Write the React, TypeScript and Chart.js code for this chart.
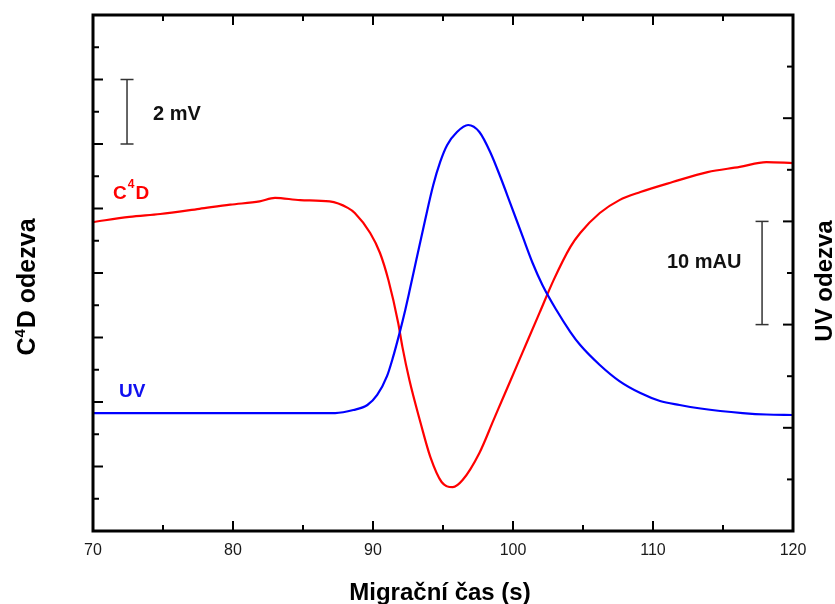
import React, { useEffect, useRef } from 'react';
import { Chart, registerables } from 'chart.js';

Chart.register(...registerables);

// C4D response (left axis, mV) vs migration time (s)
const c4dTime = [70, 72.6, 74.8, 77.6, 79.8, 81.9, 83.0, 84.8, 86.9, 88.2, 88.7, 89.8, 90.5, 91.1, 91.8, 92.1, 92.6, 93.4, 94.1, 94.9, 95.7, 96.4, 97.6, 98.6, 99.3, 100.3, 101.0, 101.9, 102.9, 104.1, 104.8, 106.2, 107.6, 109.1, 111.4, 113.9, 116.2, 118.1, 120];
const c4dValue = [9.58, 9.74, 9.83, 9.99, 10.12, 10.22, 10.33, 10.26, 10.22, 10.02, 9.86, 9.24, 8.62, 7.78, 6.45, 5.71, 4.68, 3.35, 2.29, 1.52, 1.36, 1.58, 2.42, 3.43, 4.14, 5.15, 5.86, 6.77, 7.78, 8.81, 9.24, 9.86, 10.26, 10.51, 10.82, 11.13, 11.29, 11.44, 11.41];

// UV response (right axis, mAU) vs migration time (s)
const uvTime = [70, 87.3, 88.6, 89.6, 90.3, 91.0, 91.4, 91.9, 92.3, 92.6, 93.1, 93.7, 94.3, 94.8, 95.3, 96.0, 96.8, 97.6, 98.4, 99.1, 99.8, 100.7, 101.4, 102.1, 103.1, 104.1, 104.8, 106.2, 107.6, 109.1, 110.5, 111.9, 113.4, 114.8, 116.4, 118.1, 120];
const uvValue = [11.43, 11.43, 11.72, 12.21, 13.18, 15.0, 16.7, 19.2, 21.4, 23.2, 26.3, 30.0, 33.5, 35.76, 37.4, 38.66, 39.34, 38.66, 36.63, 34.3, 31.78, 28.49, 25.97, 23.84, 21.41, 19.28, 18.02, 16.09, 14.53, 13.37, 12.6, 12.21, 11.87, 11.63, 11.43, 11.29, 11.24];

// axis ticks
const xMajorTicks = [70, 80, 90, 100, 110, 120];
const xMinorTicks = [75, 85, 95, 105, 115];
const leftMajorTicks = [2, 4, 6, 8, 10, 12, 14];
const leftMinorTicks = [1, 3, 5, 7, 9, 11, 13, 15];
const rightMajorTicks = [10, 20, 30, 40];
const rightMinorTicks = [5, 15, 25, 35, 45];

// scale bars
const c4dBar = { time: 72.43, from: 12, to: 14, label: '2 mV' };
const uvBar = { time: 117.79, from: 20, to: 30, label: '10 mAU' };

const FONT = "'Liberation Sans', Arial, sans-serif";

const decorPlugin = {
  id: 'decor',
  afterDatasetsDraw(chart: any) {
    const { ctx, chartArea: a, scales } = chart;
    const X = scales.x, Y = scales.y, Y2 = scales.y2;
    ctx.save();
    const seg = (x1: number, y1: number, x2: number, y2: number) => {
      ctx.beginPath();
      ctx.moveTo(x1, y1);
      ctx.lineTo(x2, y2);
      ctx.stroke();
    };
    ctx.strokeStyle = '#000';
    ctx.lineWidth = 2;
    const MAJ = 10, MIN = 6;
    xMajorTicks.forEach((v) => { const p = X.getPixelForValue(v); seg(p, a.bottom, p, a.bottom - MAJ); seg(p, a.top, p, a.top + MAJ); });
    xMinorTicks.forEach((v) => { const p = X.getPixelForValue(v); seg(p, a.bottom, p, a.bottom - MIN); seg(p, a.top, p, a.top + MIN); });
    leftMajorTicks.forEach((v) => { const p = Y.getPixelForValue(v); seg(a.left, p, a.left + MAJ, p); });
    leftMinorTicks.forEach((v) => { const p = Y.getPixelForValue(v); seg(a.left, p, a.left + MIN, p); });
    rightMajorTicks.forEach((v) => { const p = Y2.getPixelForValue(v); seg(a.right, p, a.right - MAJ, p); });
    rightMinorTicks.forEach((v) => { const p = Y2.getPixelForValue(v); seg(a.right, p, a.right - MIN, p); });
    ctx.lineWidth = 3;
    ctx.strokeRect(a.left, a.top, a.right - a.left, a.bottom - a.top);

    // scale bars
    ctx.strokeStyle = '#333';
    ctx.lineWidth = 1.5;
    const bar = (b: any, scale: any) => {
      const x = X.getPixelForValue(b.time);
      const y1 = scale.getPixelForValue(b.from);
      const y2 = scale.getPixelForValue(b.to);
      seg(x, y1, x, y2);
      seg(x - 6.5, y1, x + 6.5, y1);
      seg(x - 6.5, y2, x + 6.5, y2);
    };
    bar(c4dBar, Y);
    bar(uvBar, Y2);

    ctx.fillStyle = '#111';
    ctx.font = `bold 20px ${FONT}`;
    ctx.textBaseline = 'alphabetic';
    ctx.textAlign = 'left';
    ctx.fillText(c4dBar.label, 153, 120);
    ctx.fillText(uvBar.label, 667, 268);

    // series labels
    ctx.fillStyle = '#ff0000';
    ctx.font = `bold 19px ${FONT}`;
    ctx.fillText('C', 113, 199);
    const w = ctx.measureText('C').width;
    ctx.font = `bold 12px ${FONT}`;
    ctx.fillText('4', 113 + w + 1, 188);
    const w4 = ctx.measureText('4').width;
    ctx.font = `bold 19px ${FONT}`;
    ctx.fillText('D', 113 + w + w4 + 2, 199);

    ctx.fillStyle = '#1010f0';
    ctx.fillText('UV', 119, 397);

    // axis titles
    ctx.fillStyle = '#000';
    ctx.font = `bold 24px ${FONT}`;
    ctx.textAlign = 'center';
    ctx.fillText('Migrační čas (s)', 440, 600);

    // left title with superscript
    ctx.save();
    ctx.translate(35, 287);
    ctx.rotate(-Math.PI / 2);
    ctx.textAlign = 'left';
    ctx.font = `bold 25px ${FONT}`;
    const wC = ctx.measureText('C').width;
    const wRest = ctx.measureText('D odezva').width;
    ctx.font = `bold 15px ${FONT}`;
    const wS = ctx.measureText('4').width;
    const total = wC + wS + wRest + 1;
    let x0 = -total / 2;
    ctx.font = `bold 25px ${FONT}`;
    ctx.fillText('C', x0, 0);
    x0 += wC;
    ctx.font = `bold 15px ${FONT}`;
    ctx.fillText('4', x0, -10);
    x0 += wS + 1;
    ctx.font = `bold 25px ${FONT}`;
    ctx.fillText('D odezva', x0, 0);
    ctx.restore();

    ctx.save();
    ctx.translate(832, 281);
    ctx.rotate(-Math.PI / 2);
    ctx.textAlign = 'center';
    ctx.font = `bold 24px ${FONT}`;
    ctx.fillText('UV odezva', 0, 0);
    ctx.restore();

    ctx.restore();
  },
};

export default function App() {
  const ref = useRef<HTMLCanvasElement | null>(null);
  useEffect(() => {
    if (!ref.current) return;
    const chart = new Chart(ref.current, {
      type: 'line',
      data: {
        datasets: [
          {
            label: 'UV',
            data: uvTime.map((t, i) => ({ x: t, y: uvValue[i] })),
            yAxisID: 'y2',
            borderColor: '#0000ff',
            borderWidth: 2.2,
            pointRadius: 0,
            cubicInterpolationMode: 'monotone',
            fill: false,
          },
          {
            label: 'C4D',
            data: c4dTime.map((t, i) => ({ x: t, y: c4dValue[i] })),
            yAxisID: 'y',
            borderColor: '#ff0000',
            borderWidth: 2.2,
            pointRadius: 0,
            cubicInterpolationMode: 'monotone',
            fill: false,
          },
        ],
      },
      options: {
        responsive: false,
        animation: false,
        devicePixelRatio: 1,
        layout: { padding: { left: 93, right: 42, top: 15, bottom: 0 } },
        plugins: { legend: { display: false }, tooltip: { enabled: false } },
        scales: {
          x: {
            type: 'linear',
            min: 70,
            max: 120,
            grid: { display: false, drawTicks: false },
            border: { display: false },
            ticks: {
              stepSize: 10,
              padding: 10,
              color: '#1a1a1a',
              font: { family: FONT, size: 16 },
              maxRotation: 0,
              autoSkip: false,
            },
            afterFit: (s: any) => { s.height = 73; },
          },
          y: { display: false, min: 0, max: 16 },
          y2: { display: false, min: 0, max: 50, position: 'right' },
        },
      },
      plugins: [decorPlugin],
    } as any);
    return () => chart.destroy();
  }, []);
  return (
    <div style={{ position: 'fixed', left: 0, top: 0, width: 835, height: 604, background: '#fff' }}>
      <canvas ref={ref} width={835} height={604} style={{ display: 'block' }} />
    </div>
  );
}
